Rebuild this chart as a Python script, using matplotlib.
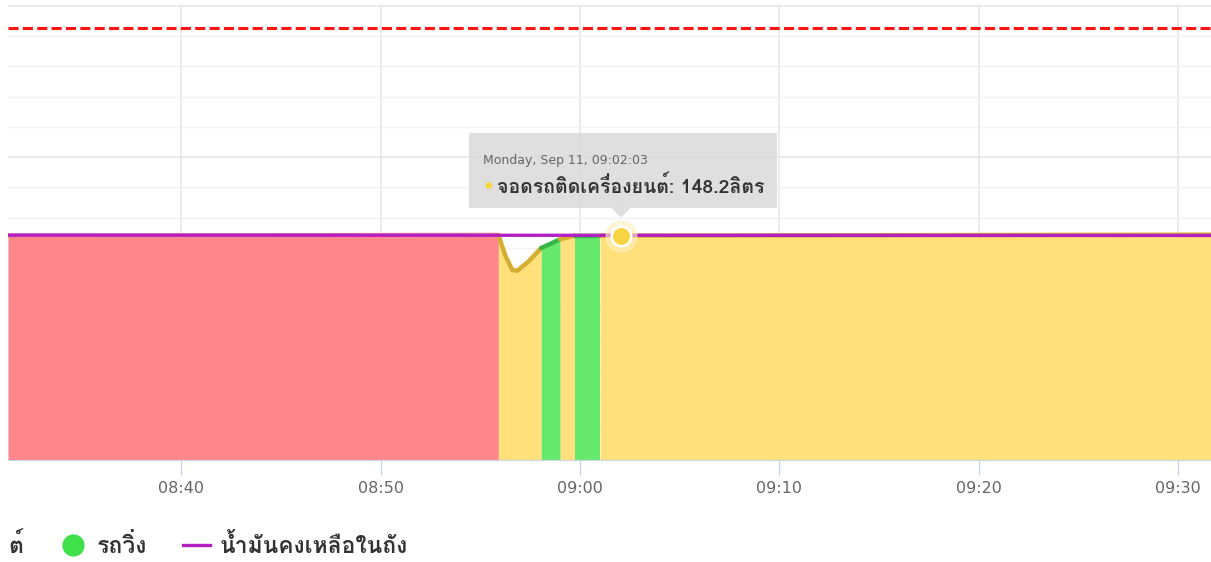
import matplotlib
matplotlib.use("Agg")
import matplotlib.pyplot as plt
import numpy as np
from matplotlib import font_manager as fm
from matplotlib.ft2font import FT2Font
from matplotlib.patches import Rectangle, Polygon
from matplotlib.transforms import IdentityTransform

# look for any installed font that can draw Thai
thai_font = None
for f in fm.fontManager.ttflist:
    try:
        if 0x0E01 in FT2Font(f.fname).get_charmap():
            thai_font = f.name
            break
    except Exception:
        pass
thai = [thai_font, "DejaVu Sans"] if thai_font else ["DejaVu Sans"]
narrow = ["Liberation Sans Narrow", "DejaVu Sans"]

# time axis in minutes after 08:00
tick_pos = [40, 50, 60, 70, 80, 90]
tick_labels = ["08:40", "08:50", "09:00", "09:10", "09:20", "09:30"]
t_min, t_max = 31.3, 91.65

# fuel level (litres)
fuel_t = [31.3, 55.9, 56.25, 56.6, 56.85, 57.4, 58.05, 59.0, 59.75, 61.0, 62.05, 91.65]
fuel = [148.2, 148.6, 135.0, 125.5, 125.0, 131.0, 140.0, 145.8, 148.2, 148.2, 148.2, 148.8]

# vehicle state segments
state_start = [31.3, 55.9, 58.05, 59.0, 59.75, 61.0]
state_end = [55.9, 58.05, 59.0, 59.75, 61.0, 91.65]
state = ["off", "idle", "drive", "idle", "drive", "idle"]

# fuel remaining in tank + tank capacity
tank_t = [31.3, 91.65]
tank = [148.5, 148.3]
capacity = 285

tip_time = 62.05
tip_value = 148.2
tip_date = "Monday, Sep 11, 09:02:03"
tip_text = "จอดรถติดเครื่องยนต์: 148.2ลิตร"
legend_cut = "ต์"
legend_drive = "รถวิ่ง"
legend_tank = "น้ำมันคงเหลือในถัง"

fill_col = {"off": "#ff868b", "idle": "#ffe07a", "drive": "#66e86d"}
line_col = {"off": "#ff868b", "idle": "#d3ae30", "drive": "#3ab54a"}

fig = plt.figure(figsize=(12.11, 5.62), dpi=100)
ax = fig.add_axes([8 / 1211, 102 / 562, 1203 / 1211, 455 / 562])

t = np.array(fuel_t)
v = np.array(fuel)
for a, b, s in zip(state_start, state_end, state):
    m = (t >= a) & (t <= b)
    ax.fill_between(t[m], v[m], color=fill_col[s], lw=0, zorder=2)
for a, b, s in zip(state_start, state_end, state):
    m = (t >= a) & (t <= b)
    ax.plot(t[m], v[m], color=line_col[s], lw=3.2, zorder=3, solid_capstyle="round",
            solid_joinstyle="round")

ax.plot(tank_t, tank, color="#b41fc4", lw=2.4, zorder=4)
ax.axhline(capacity, color="#ff1414", lw=2.2, dashes=(3.3, 1.4), zorder=4)

ax.plot([tip_time], [tip_value], "o", ms=22, color="#fff0c0", alpha=0.6, zorder=5, clip_on=False)
ax.plot([tip_time], [tip_value], "o", ms=14, mfc="#f8d443", mec="white", mew=1.8, zorder=6)

ax.set_xlim(t_min, t_max)
ax.set_ylim(0, 300.5)
ax.set_xticks(tick_pos)
ax.set_xticklabels(tick_labels, family=narrow)
ax.set_yticks(np.arange(0, 301, 100))
ax.set_yticks(np.arange(0, 301, 20), minor=True)
ax.grid(True, which="major", color="#e6e6e6", lw=1.2, zorder=0)
ax.grid(True, which="minor", axis="y", color="#f2f2f2", lw=1, zorder=0)
ax.set_axisbelow(True)
ax.tick_params(axis="y", which="both", length=0, labelleft=False)
ax.tick_params(axis="x", length=11, width=1, color="#ccd6eb", pad=4,
               labelsize=11.5, labelcolor="#666666")
for side in ["top", "right", "left"]:
    ax.spines[side].set_visible(False)
ax.spines["bottom"].set_color("#ccd6eb")

# tooltip, placed relative to the hovered point
px, py = ax.transData.transform((tip_time, tip_value))
fig.add_artist(Rectangle((px - 152, py + 28), 308, 75, transform=IdentityTransform(),
                         facecolor="#dadada", alpha=0.85, edgecolor="none"))
fig.add_artist(Polygon([(px - 10, py + 28), (px + 10, py + 28), (px, py + 18)],
                       transform=IdentityTransform(), facecolor="#dadada", alpha=0.85,
                       edgecolor="none"))
fig.text(px - 138, py + 75, tip_date, transform=IdentityTransform(), family=narrow,
         fontsize=9, color="#666666", va="center")
fig.text(px - 133, py + 50, "●", transform=IdentityTransform(), fontsize=6.5,
         color="#f8d443", va="center", ha="center")
fig.text(px - 124, py + 49, tip_text, transform=IdentityTransform(), family=thai,
         fontsize=14, fontweight="bold", color="#333333", va="center")

# legend strip at the bottom (first item is cut off at the left edge)
ly = 1 - 545 / 562
fs = 16.5
fig.text(8 / 1211, ly, legend_cut, family=thai, fontsize=fs, fontweight="bold",
         color="#333333", va="center")
fig.add_artist(plt.Line2D([73 / 1211], [ly], marker="o", ms=15, color="#3fe04a",
                          transform=fig.transFigure))
fig.text(97 / 1211, ly, legend_drive, family=thai, fontsize=fs, fontweight="bold",
         color="#333333", va="center")
fig.add_artist(plt.Line2D([183 / 1211, 210 / 1211], [ly, ly], color="#b41fc4", lw=2.4,
                          transform=fig.transFigure))
fig.text(220 / 1211, ly, legend_tank, family=thai, fontsize=fs, fontweight="bold",
         color="#333333", va="center")

fig.savefig("out.png", dpi=100)
